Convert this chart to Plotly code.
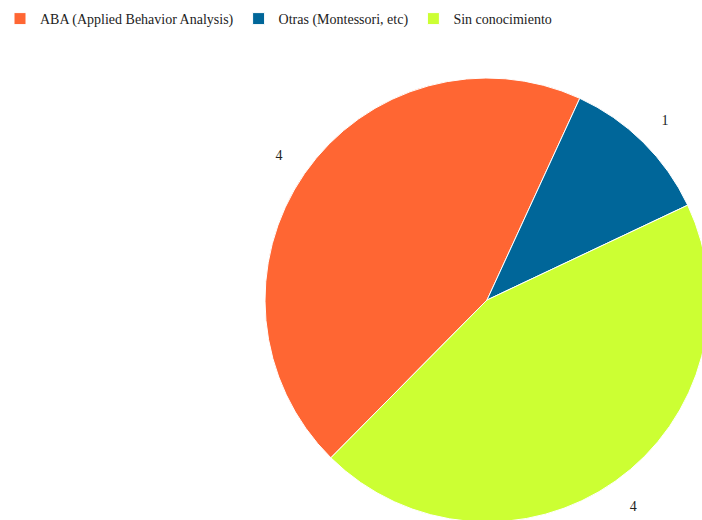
import plotly.graph_objects as go

labels = ["ABA (Applied Behavior Analysis)", "Otras (Montessori, etc)", "Sin conocimiento"]
values = [4, 1, 4]
colors = ["#FF6633", "#006699", "#CCFF33"]

W, H = 780, 580
cx, cy, r = 487, 300, 222
rl_out, rl_in = 270, 236  # ring holding the value labels


def dom(rad):
    return dict(x=[(cx - rad) / W, (cx + rad) / W],
                y=[(H - cy - rad) / H, (H - cy + rad) / H])


fig = go.Figure()
fig.add_trace(go.Pie(
    labels=labels,
    values=values,
    sort=False,
    direction="clockwise",
    rotation=224.7,
    marker=dict(colors=colors, line=dict(color="white", width=1)),
    textinfo="none",
    domain=dom(r),
    hoverinfo="label+value",
))
# transparent ring carrying the value labels outside the pie
fig.add_trace(go.Pie(
    labels=labels,
    values=values,
    sort=False,
    direction="clockwise",
    rotation=224.7,
    hole=rl_in / rl_out,
    marker=dict(colors=["rgba(0,0,0,0)"] * 3, line=dict(width=0)),
    textinfo="value",
    textposition="inside",
    insidetextorientation="horizontal",
    textfont=dict(family="Liberation Serif", size=14, color="#222222"),
    domain=dom(rl_out),
    showlegend=False,
    hoverinfo="skip",
))

fig.update_layout(
    width=W, height=H,
    margin=dict(l=0, r=0, t=0, b=0),
    paper_bgcolor="white",
    font=dict(family="Liberation Serif", size=14, color="#222222"),
    legend=dict(orientation="h", x=0, y=1 - 3 / H, xanchor="left", yanchor="top",
                font=dict(family="Liberation Serif", size=14, color="#222222")),
)

fig.write_html("out.html", config={"displayModeBar": False},
               post_script="document.body.style.margin='0';document.body.style.overflow='hidden';")
